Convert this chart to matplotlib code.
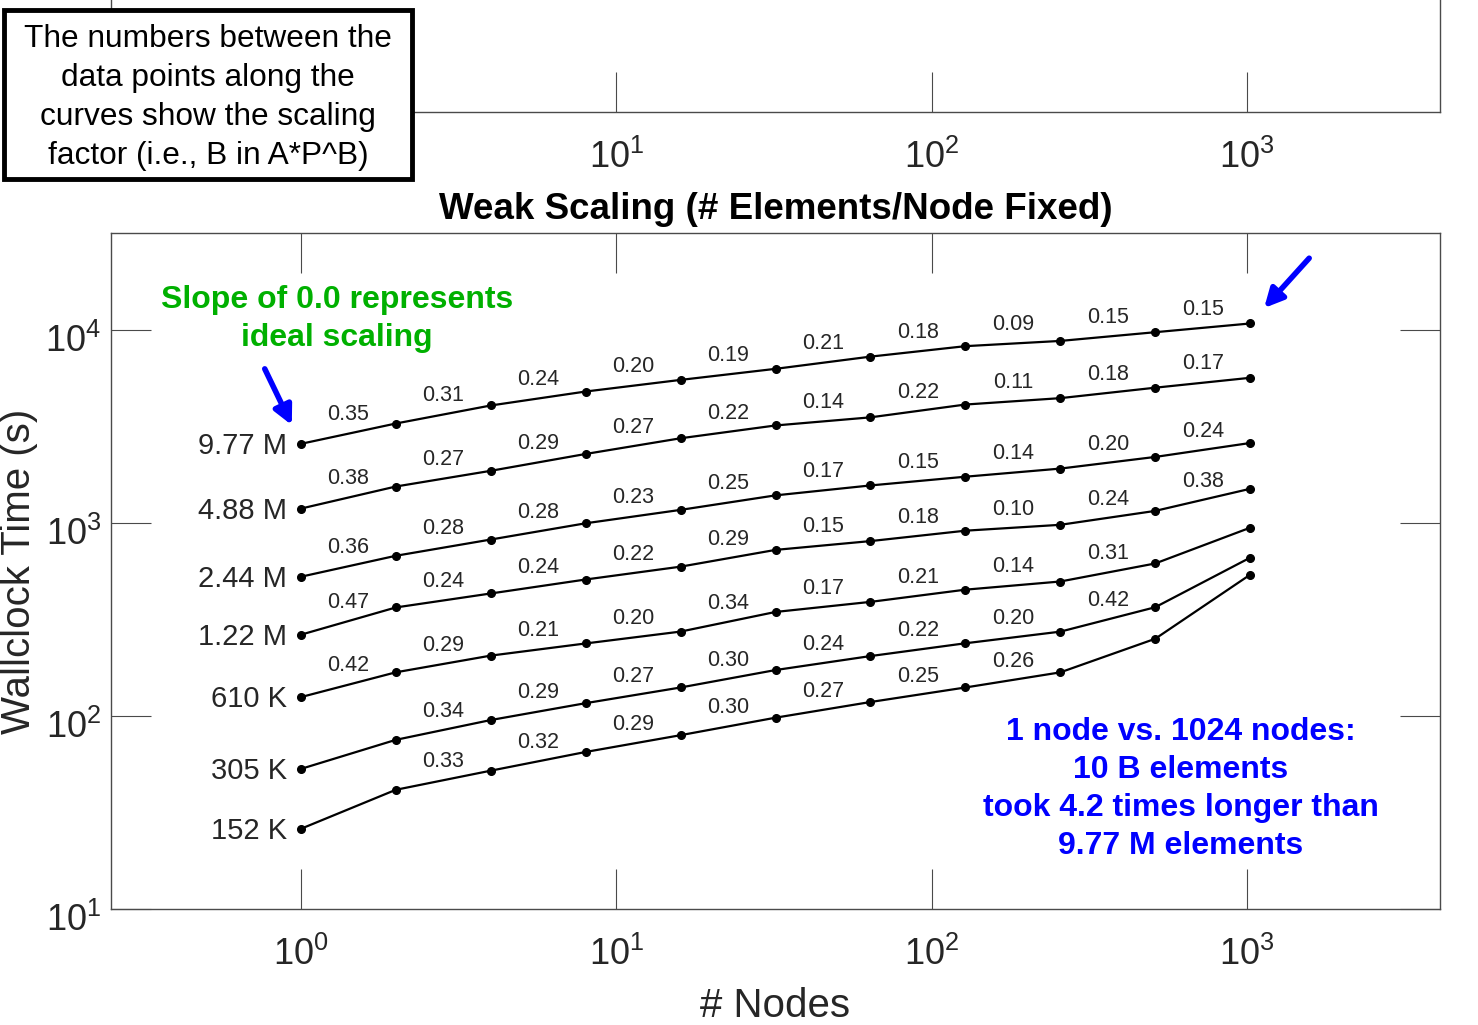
import matplotlib
matplotlib.use("Agg")
import matplotlib.pyplot as plt
from matplotlib.patches import Rectangle
from matplotlib.transforms import ScaledTranslation

plt.rcParams['font.family'] = ['Liberation Sans', 'DejaVu Sans']
plt.rcParams['mathtext.fontset'] = 'custom'
plt.rcParams['mathtext.rm'] = 'Liberation Sans'

# nodes used in the weak scaling runs
nodes = [1, 2, 4, 8, 16, 32, 64, 128, 256, 512, 1024]

# wallclock time (s), one list per elements/node size
t_977M = [2560, 3262, 4044, 4777, 5487, 6260, 7241, 8203, 8732, 9689, 10751]
t_488M = [1183, 1539, 1856, 2269, 2736, 3187, 3511, 4090, 4414, 5000, 5626]
t_244M = [525, 674, 818, 993, 1165, 1385, 1559, 1730, 1906, 2190, 2586]
t_122M = [263, 364, 430, 508, 592, 723, 803, 909, 975, 1151, 1498]
t_610K = [125, 168, 205, 237, 273, 345, 389, 450, 496, 615, 942]
t_305K = [53.1, 75.1, 95.1, 116.3, 140.2, 172.6, 203.9, 237.5, 272.8, 365, 659]
t_152K = [26.0, 41.4, 52.0, 65.0, 79.4, 97.8, 117.9, 140.2, 167.9, 250.6, 538]

series = [t_977M, t_488M, t_244M, t_122M, t_610K, t_305K, t_152K]
names = ['9.77 M', '4.88 M', '2.44 M', '1.22 M', '610 K', '305 K', '152 K']

# scaling factors written between points (None = not shown)
slopes = [
    ['0.35', '0.31', '0.24', '0.20', '0.19', '0.21', '0.18', '0.09', '0.15', '0.15'],
    ['0.38', '0.27', '0.29', '0.27', '0.22', '0.14', '0.22', '0.11', '0.18', '0.17'],
    ['0.36', '0.28', '0.28', '0.23', '0.25', '0.17', '0.15', '0.14', '0.20', '0.24'],
    ['0.47', '0.24', '0.24', '0.22', '0.29', '0.15', '0.18', '0.10', '0.24', '0.38'],
    ['0.42', '0.29', '0.21', '0.20', '0.34', '0.17', '0.21', '0.14', '0.31', None],
    [None, '0.34', '0.29', '0.27', '0.30', '0.24', '0.22', '0.20', '0.42', None],
    [None, '0.33', '0.32', '0.29', '0.30', '0.27', '0.25', '0.26', None, None],
]

xticks = [1, 10, 100, 1000]
xticklabels = [r'$\mathregular{10^{%d}}$' % i for i in range(4)]
yticks = [10, 100, 1000, 10000]
yticklabels = [r'$\mathregular{10^{%d}}$' % i for i in range(1, 5)]

SPINE = '#4a4a4a'
TXT = '#262626'

fig = plt.figure(figsize=(14.78, 10.25), dpi=100)

def style(ax):
    ax.set_xscale('log')
    ax.set_xlim(0.25, 4096)
    ax.minorticks_off()
    for s in ax.spines.values():
        s.set_color(SPINE)
        s.set_linewidth(1.0)
    ax.tick_params(which='major', direction='in', length=28.8, width=0.8,
                   color=SPINE, labelcolor=TXT, labelsize=26)

# bottom edge of the upper panel (mostly cut off, its 10^0 sits under the note box)
top_ax = fig.add_axes([0.0751, 0.8907, 0.8992, 0.3])
style(top_ax)
top_ax.set_yticks([])
top_ax.set_xticks(xticks, labels=[''] + xticklabels[1:])
top_ax.tick_params(axis='x', pad=20)

ax = fig.add_axes([0.0751, 0.1132, 0.8992, 0.6595])
ax.set_yscale('log')
style(ax)
ax.set_ylim(10, 10 ** 4.5)
ax.minorticks_off()
ax.set_xticks(xticks, labels=xticklabels)
ax.set_yticks(yticks, labels=yticklabels)
ax.tick_params(top=True, right=True)
ax.tick_params(axis='x', pad=20)
ax.tick_params(axis='y', pad=7)
down = ScaledTranslation(0, -6 / 72, fig.dpi_scale_trans)
for lab in ax.get_yticklabels():
    lab.set_transform(lab.get_transform() + down)

for t, name, sl in zip(series, names, slopes):
    ax.plot(nodes, t, '-', color='black', lw=1.6, marker='o', ms=5.5)
    ax.annotate(name, (nodes[0], t[0]), xytext=(-10, -1.5), textcoords='offset points',
                ha='right', va='center', fontsize=21, color=TXT)
    for i, s in enumerate(sl):
        if s is None:
            continue
        xm = (nodes[i] * nodes[i + 1]) ** 0.5
        ym = (t[i] * t[i + 1]) ** 0.5
        ax.annotate(s, (xm, ym), xytext=(0, 13.5), textcoords='offset points',
                    ha='center', va='center', fontsize=15.5, color=TXT)

ax.set_title('Weak Scaling (# Elements/Node Fixed)', fontsize=26.5,
             fontweight='bold', pad=10, color='black')
ax.set_xlabel('# Nodes', fontsize=29, color=TXT)
ax.set_ylabel('Wallclock Time (s)', fontsize=29, color=TXT)
ax.xaxis.set_label_coords(0.5, -0.116)
ax.yaxis.set_label_coords(-0.055, 0.5)

ax.text(0.170, 0.873, 'Slope of 0.0 represents\nideal scaling', transform=ax.transAxes,
        ha='center', va='center', fontsize=23, fontweight='bold', color='#00b000',
        linespacing=1.32)
ax.text(0.805, 0.178, '1 node vs. 1024 nodes:\n10 B elements\ntook 4.2 times longer than\n9.77 M elements',
        transform=ax.transAxes, ha='center', va='center', fontsize=23,
        fontweight='bold', color='blue', linespacing=1.35)

arrow = dict(arrowstyle='-|>', color='blue', lw=4, mutation_scale=28,
             shrinkA=0, shrinkB=15)
ax.annotate('', (nodes[0], t_977M[0]), xytext=(-26, 54), textcoords='offset points',
            arrowprops=arrow)
ax.annotate('', (nodes[-1], t_977M[-1]), xytext=(42.5, 47), textcoords='offset points',
            arrowprops=arrow)

# note box in the top-left corner
box = Rectangle((0.00304, 0.8249), 0.2754, 0.1649, transform=fig.transFigure,
                facecolor='white', edgecolor='black', lw=3.5, zorder=10)
fig.add_artist(box)
fig.text(0.1407, 0.9052, 'The numbers between the\ndata points along the\ncurves show the scaling\nfactor (i.e., B in A*P^B)',
         ha='center', va='center', fontsize=22.8, color='black', zorder=11,
         linespacing=1.39)

fig.savefig('out.png', dpi=100, facecolor='white')
